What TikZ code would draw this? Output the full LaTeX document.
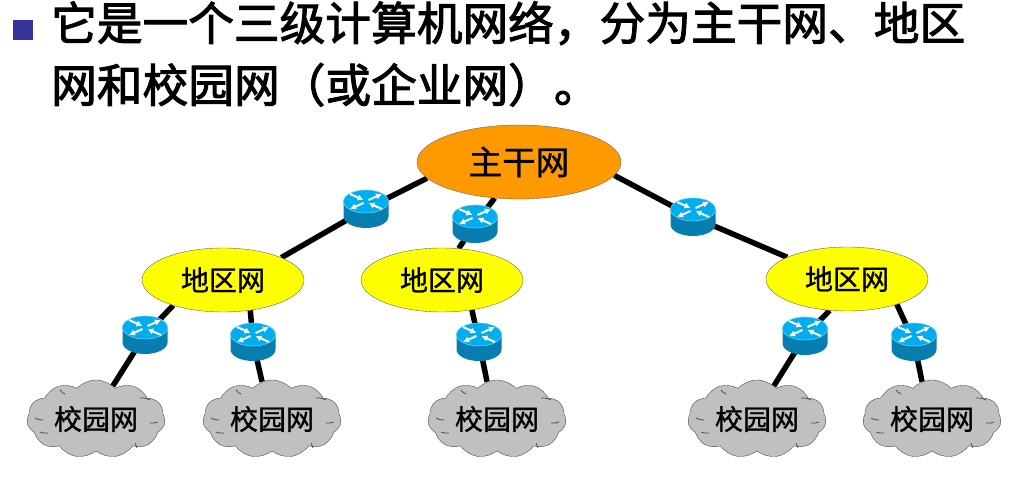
\documentclass[tikz,border=0pt]{standalone}
\usepackage{fontspec}
\setmainfont{Noto Sans CJK SC}
\newfontfamily\titlefont[FakeBold=2.2]{Noto Sans CJK SC}
\newfontfamily\labelfont[FakeBold=1]{Noto Sans CJK SC}
\usetikzlibrary{arrows.meta,backgrounds,shapes.geometric,shapes.symbols}
\definecolor{BulletBlue}{RGB}{51,51,153}
\definecolor{BackboneOrange}{RGB}{255,153,0}
\definecolor{RegionYellow}{RGB}{255,255,0}
\definecolor{CampusGray}{RGB}{192,192,192}
\definecolor{RouterTop}{RGB}{0,174,239}
\definecolor{RouterSide}{RGB}{8,125,175}
\newcommand{\routernode}[2]{
    \node[routerbox] (#1) at (#2) {};
    \begin{scope}[shift={(#1.center)}]
        \fill[RouterSide] (-22.5,7.5) -- (-22.5,-7.5) arc (180:360:22.5 and 11.5) -- (22.5,7.5) -- cycle;
        \filldraw[fill=RouterTop, draw=RouterTop!60!white, line width=0.6pt] (0,7.5) ellipse (22.5 and 11.5);
        \draw[routerarrow] (-16,15) -- (-2.5,9);
        \draw[routerarrow] (16,0) -- (2.5,6);
        \draw[routerarrow] (2.5,9) -- (16,15);
        \draw[routerarrow] (-2.5,6) -- (-16,0);
    \end{scope}
}
\newcommand{\campusnode}[2]{
    \node[campus] (#1) at (#2) {\labelfont 校园网};
    \begin{scope}[shift={(#1.center)}]
        \draw[campusline] (-36,29) to[bend right=15] (-31,25);
        \draw[campusline] (44,21) to[bend left=15] (54,19);
        \draw[campusline] (54,-4) to[bend right=15] (62,-3);
        \draw[campusline] (39,-24) to[bend left=15] (41,-29);
        \draw[campusline] (-56,-13) to[bend right=15] (-48,-14);
        \draw[campusline] (-61,1) to[bend right=15] (-53,-1);
    \end{scope}
}
\begin{document}
\begin{tikzpicture}[x=1pt, y=1pt, >=Latex]
    \tikzstyle{routerbox}=[inner sep=0pt, minimum width=46pt, minimum height=38pt]
    \tikzstyle{routerarrow}=[-{Latex[length=6pt,width=6.5pt]}, white, line width=2pt]
    \tikzstyle{backbone}=[ellipse, draw=black!60, fill=BackboneOrange, inner sep=0pt, minimum width=204pt, minimum height=74pt, font=\fontsize{33.5}{33.5}\selectfont\labelfont]
    \tikzstyle{region}=[ellipse, draw=black!60, fill=RegionYellow, inner sep=0pt, minimum width=162pt, minimum height=64pt, font=\fontsize{28}{28}\selectfont\labelfont]
    \tikzstyle{campus}=[cloud, cloud puffs=11, cloud puff arc=95, aspect=1.8, draw=black!70, fill=CampusGray, inner sep=0pt, minimum width=138pt, minimum height=78pt, font=\fontsize{28}{28}\selectfont]
    \tikzstyle{campusline}=[draw=black!70, line width=0.8pt]
    \tikzstyle{link}=[line width=5.5pt, black]
    \useasboundingbox (0,0) rectangle (1010,-481);

    \node[fill=BulletBlue, inner sep=0pt, minimum size=20pt] (bullet) at (23,-30) {};
    \node[anchor=north west, inner sep=0pt, align=left, font=\fontsize{45.7}{62}\selectfont\titlefont] (title) at (51,-1) {它是一个三级计算机网络，分为主干网、地区\\网和校园网（或企业网）。};

    \node[backbone] (main) at (519,-162) {\raisebox{-2pt}{主干网}};
    \node[region] (regionA) at (223,-280) {地区网};
    \node[region] (regionB) at (442,-280) {地区网};
    \node[region] (regionC) at (847,-279) {地区网};

    \routernode{routerA}{366,-209}
    \routernode{routerB}{475,-224}
    \routernode{routerC}{693,-217}
    \routernode{routerD}{145,-335}
    \routernode{routerE}{253,-342}
    \routernode{routerF}{479,-342}
    \routernode{routerG}{805,-336}
    \routernode{routerH}{914,-342}

    \campusnode{campusA}{96,-419}
    \campusnode{campusB}{272,-419}
    \campusnode{campusC}{497,-419}
    \campusnode{campusD}{757,-419}
    \campusnode{campusE}{932,-419}

    \begin{scope}[on background layer]
        \draw[link] (main.190) -- (routerA.center) -- (regionA.21);
        \draw[link] (main.236) -- (routerB.center) -- (regionB.62);
        \draw[link] (main.352) -- (routerC.center) -- (regionC.160);
        \draw[link] (regionA.207) -- (routerD.center) -- (campusA.63);
        \draw[link] (regionA.312) -- (routerE.center) -- (campusB.105);
        \draw[link] (regionB.315) -- (routerF.center) -- (campusC.105);
        \draw[link] (regionC.241) -- (routerG.center) -- (campusD.63);
        \draw[link] (regionC.333) -- (routerH.center) -- (campusE.105);
    \end{scope}
\end{tikzpicture}
\end{document}
